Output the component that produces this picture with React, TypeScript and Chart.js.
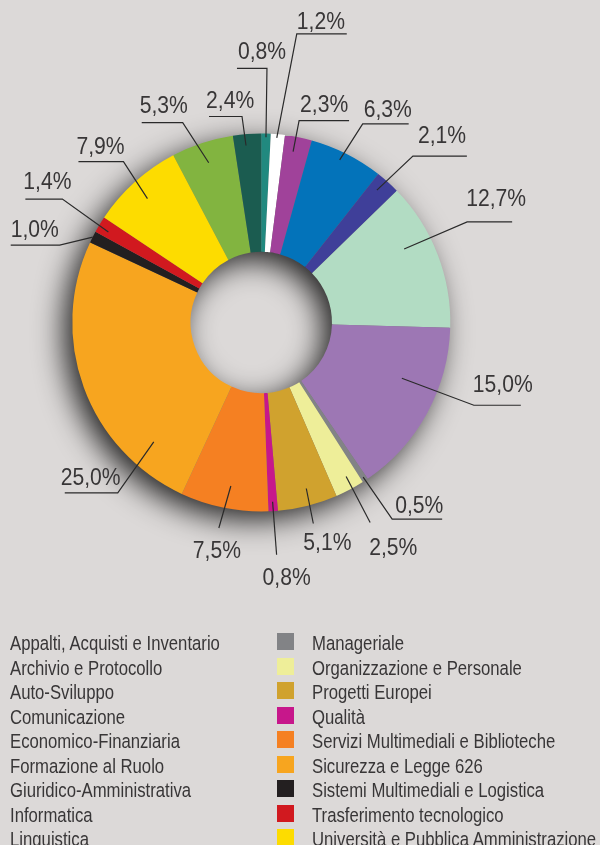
import { useEffect, useRef } from 'react';
import { Chart, registerables } from 'chart.js';

Chart.register(...registerables);

const BG = '#dcd9d8';
const TEXT = '#383637';

const categories = [
  'Appalti, Acquisti e Inventario',
  'Archivio e Protocollo',
  'Auto-Sviluppo',
  'Comunicazione',
  'Economico-Finanziaria',
  'Formazione al Ruolo',
  'Giuridico-Amministrativa',
  'Informatica',
  'Linguistica',
  'Manageriale',
  'Organizzazione e Personale',
  'Progetti Europei',
  'Qualità',
  'Servizi Multimediali e Biblioteche',
  'Sicurezza e Legge 626',
  'Sistemi Multimediali e Logistica',
  'Trasferimento tecnologico',
  'Università e Pubblica Amministrazione',
];

const values = [5.3, 2.4, 0.8, 1.2, 2.3, 6.3, 2.1, 12.7, 15.0, 0.5, 2.5, 5.1, 0.8, 7.5, 25.0, 1.0, 1.4, 7.9];

const colors = [
  '#82b440', '#1b5c50', '#21897f', '#ffffff', '#a0429a', '#0373ba',
  '#3f3f99', '#b2dcc3', '#9d77b4', '#828386', '#eeee99', '#d0a22e',
  '#c7178b', '#f58022', '#f7a51f', '#231f20', '#d1191f', '#fddc00',
];

// Label placement: t = position along slice, r = fraction of outer radius for the leader start,
// dx/dy = leader elbow offset, ul = underline length (sign = direction), tx/ty = text offset from elbow
const labelLayout = [
  { t: 0.5, r: 0.89, dx: -26, dy: -40, ul: -41, tx: -43, ty: -10 },
  { t: 0.43, r: 0.94, dx: -4, dy: -29, ul: -33, tx: -36, ty: -8 },
  { t: 0.5, r: 0.98, dx: 1, dy: -69, ul: -30, tx: -29, ty: -9 },
  { t: 0.44, r: 0.98, dx: 20, dy: -104, ul: 50, tx: 0, ty: -5 },
  { t: 0.4, r: 0.92, dx: 6, dy: -31, ul: 50, tx: 1, ty: -9 },
  { t: 0.45, r: 0.955, dx: 23, dy: -36, ul: 46, tx: 1, ty: -7 },
  { t: 0.38, r: 0.93, dx: 36, dy: -34, ul: 54, tx: 5, ty: -13 },
  { t: 0.37, r: 0.85, dx: 63, dy: -27, ul: 45, tx: -1, ty: -16 },
  { t: 0.37, r: 0.8, dx: 72, dy: 27, ul: 47, tx: -1, ty: -13 },
  { t: 0.5, r: 0.98, dx: 29, dy: 42, ul: 50, tx: 3, ty: -6 },
  { t: 0.4, r: 0.93, dx: 24, dy: 46, ul: 0, tx: -1, ty: 33 },
  { t: 0.45, r: 0.91, dx: 7, dy: 35, ul: 0, tx: -10, ty: 27 },
  { t: 0.5, r: 0.95, dx: 4, dy: 53, ul: 0, tx: -14, ty: 30 },
  { t: 0.47, r: 0.88, dx: -12, dy: 42, ul: 0, tx: -26, ty: 30 },
  { t: 0.19, r: 0.85, dx: -36, dy: 51, ul: -53, tx: -57, ty: -8 },
  { t: 0.5, r: 1.0, dx: -33, dy: 8, ul: -49, tx: -49, ty: -8 },
  { t: 0.38, r: 0.94, dx: -46, dy: -33, ul: -37, tx: -39, ty: -10 },
  { t: 0.48, r: 0.89, dx: -24, dy: -37, ul: -45, tx: -47, ty: -8 },
];

const FONT = '"Liberation Sans", Arial, sans-serif';
const LABEL_SCALE_X = 0.88;
const LEGEND_SCALE_X = 0.815;

const fmt = (v: number) => v.toFixed(1).replace('.', ',') + '%';

const shadowPlugin = {
  id: 'ringShadow',
  beforeDatasetsDraw(chart: any) {
    const el = chart.getDatasetMeta(0).data[0];
    if (!el) return;
    const { x, y, outerRadius, innerRadius } = el.getProps(['x', 'y', 'outerRadius', 'innerRadius'], true);
    const ctx = chart.ctx;
    ctx.save();
    ctx.shadowColor = 'rgba(0,0,0,0.85)';
    ctx.shadowBlur = 30;
    ctx.shadowOffsetX = -9;
    ctx.shadowOffsetY = 9;
    ctx.beginPath();
    ctx.arc(x, y, outerRadius - 1, 0, Math.PI * 2);
    ctx.arc(x, y, innerRadius + 1, 0, Math.PI * 2, true);
    ctx.fillStyle = '#777';
    ctx.fill('evenodd');
    ctx.restore();
  },
};

const labelPlugin = {
  id: 'leaderLabels',
  afterDatasetsDraw(chart: any) {
    const ctx = chart.ctx;
    const meta = chart.getDatasetMeta(0);
    ctx.save();
    meta.data.forEach((el: any, i: number) => {
      const L = labelLayout[i];
      const p = el.getProps(['x', 'y', 'startAngle', 'endAngle', 'outerRadius'], true);
      const a = p.startAngle + L.t * (p.endAngle - p.startAngle);
      const ax = p.x + Math.cos(a) * p.outerRadius * L.r;
      const ay = p.y + Math.sin(a) * p.outerRadius * L.r;
      const ex = ax + L.dx;
      const ey = ay + L.dy;
      ctx.strokeStyle = '#2a2a2a';
      ctx.lineWidth = 1.2;
      ctx.beginPath();
      ctx.moveTo(ax, ay);
      ctx.lineTo(ex, ey);
      if (L.ul) ctx.lineTo(ex + L.ul, ey);
      ctx.stroke();
      ctx.save();
      ctx.translate(ex + L.tx, ey + L.ty);
      ctx.scale(LABEL_SCALE_X, 1);
      ctx.font = `24px ${FONT}`;
      ctx.textBaseline = 'alphabetic';
      ctx.textAlign = 'left';
      ctx.fillStyle = TEXT;
      ctx.fillText(fmt(values[i]), 0, 0);
      ctx.restore();
    });
    ctx.restore();
  },
};

const legendText = (text: string, left: number) => (
  <span
    style={{
      position: 'absolute',
      left,
      top: 0,
      lineHeight: '24.5px',
      fontSize: 20.5,
      fontFamily: FONT,
      color: TEXT,
      whiteSpace: 'nowrap',
      display: 'inline-block',
      transform: `scaleX(${LEGEND_SCALE_X})`,
      transformOrigin: '0 50%',
    }}
  >
    {text}
  </span>
);

export default function App() {
  const ref = useRef<HTMLCanvasElement>(null);

  useEffect(() => {
    document.body.style.margin = '0';
    document.body.style.background = BG;
    const total = values.reduce((s, v) => s + v, 0);
    const rotation = -((values[0] + values[1]) / total) * 360;
    const chart = new Chart(ref.current as HTMLCanvasElement, {
      type: 'doughnut',
      data: {
        labels: categories,
        datasets: [
          {
            data: values,
            backgroundColor: colors,
            borderWidth: 0,
            hoverOffset: 0,
            offset: 0,
          } as any,
        ],
      },
      options: {
        responsive: false,
        animation: false,
        rotation,
        radius: 189,
        cutout: '37.4%',
        events: [],
        layout: { padding: { left: 0, right: 77.4, top: 5, bottom: 0 } },
        plugins: { legend: { display: false }, tooltip: { enabled: false } },
      } as any,
      plugins: [shadowPlugin, labelPlugin],
    });
    return () => chart.destroy();
  }, []);

  const rows = Array.from({ length: 9 }, (_, i) => i);

  return (
    <div style={{ position: 'absolute', left: 0, top: 0, width: 600, height: 845, overflow: 'hidden', background: BG }}>
      <canvas ref={ref} width={600} height={640} style={{ position: 'absolute', left: 0, top: 0 }} />
      {rows.map((i) => (
        <div key={i} style={{ position: 'absolute', left: 0, top: 631.4 + i * 24.5, width: 600, height: 24.5 }}>
          <span style={{ position: 'absolute', left: -30, top: 2, width: 17, height: 17, background: colors[i] }} />
          {legendText(categories[i], 10)}
          <span style={{ position: 'absolute', left: 277, top: 2, width: 17, height: 17, background: colors[i + 9] }} />
          {legendText(categories[i + 9], 312)}
        </div>
      ))}
    </div>
  );
}
